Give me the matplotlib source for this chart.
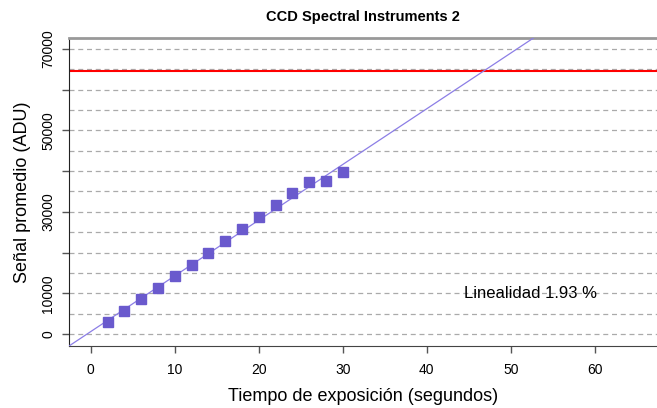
import numpy as np
import matplotlib
matplotlib.use("Agg")
import matplotlib.pyplot as plt

plt.rcParams['font.family'] = ['Liberation Sans', 'DejaVu Sans']

# --- DATA ---
tiempo = [2, 4, 6, 8, 10, 12, 14, 16, 18, 20, 22, 24, 26, 28, 30]
senal = [2950, 5650, 8600, 11300, 14250, 16950, 19900, 22850, 25800,
         28750, 31700, 34650, 37350, 37600, 39800]
pendiente = 1368.0      # ajuste lineal (ADU / s)
intercepto = 600.0
saturacion = 64500      # nivel de saturacion
y_ticks = [0, 10000, 20000, 30000, 40000, 50000, 60000, 70000]
y_labels = ['0', '10000', '', '30000', '', '50000', '', '70000']
x_ticks = [0, 10, 20, 30, 40, 50, 60]
grid_levels = list(range(0, 70001, 5000))
texto = "Linealidad 1.93 %"

fig = plt.figure(figsize=(6.57, 4.08), dpi=100)
ax = fig.add_axes([0.105, 0.152, 0.895, 0.755])

for g in grid_levels:
    ax.axhline(g, color='#aaaaaa', linestyle=(0, (4, 3)), linewidth=0.9, zorder=1)

ax.axhline(saturacion, color='red', linewidth=1.5, zorder=2)
ax.axline((0, intercepto), slope=pendiente, color='#8c7ee6', linewidth=0.9, zorder=3)
ax.plot(tiempo, senal, linestyle='none', marker='s', markersize=7.5,
        color='#6a5acd', zorder=4)

ax.text(52.3, 10000, texto, ha='center', va='center', fontsize=12)

ax.set_xlim(-2.6, 67.4)
ax.set_ylim(-2950, 72700)
ax.set_xticks(x_ticks)
ax.set_yticks(y_ticks)
ax.set_yticklabels(y_labels, rotation=90, va='center')
ax.tick_params(labelsize=10, length=5, width=1, color='#555555', pad=7)
ax.tick_params(axis='y', pad=5)

ax.spines['right'].set_visible(False)
ax.spines['top'].set_color('#999999')
ax.spines['top'].set_linewidth(2)
ax.spines['left'].set_color('#222222')
ax.spines['bottom'].set_color('#444444')

ax.set_xlabel("Tiempo de exposición (segundos)", fontsize=13, labelpad=8)
ax.set_ylabel("Señal promedio (ADU)", fontsize=13, labelpad=7)
ax.set_title("CCD Spectral Instruments 2", fontsize=10.5, fontweight='bold', pad=12)

fig.savefig("out.png", dpi=100)
